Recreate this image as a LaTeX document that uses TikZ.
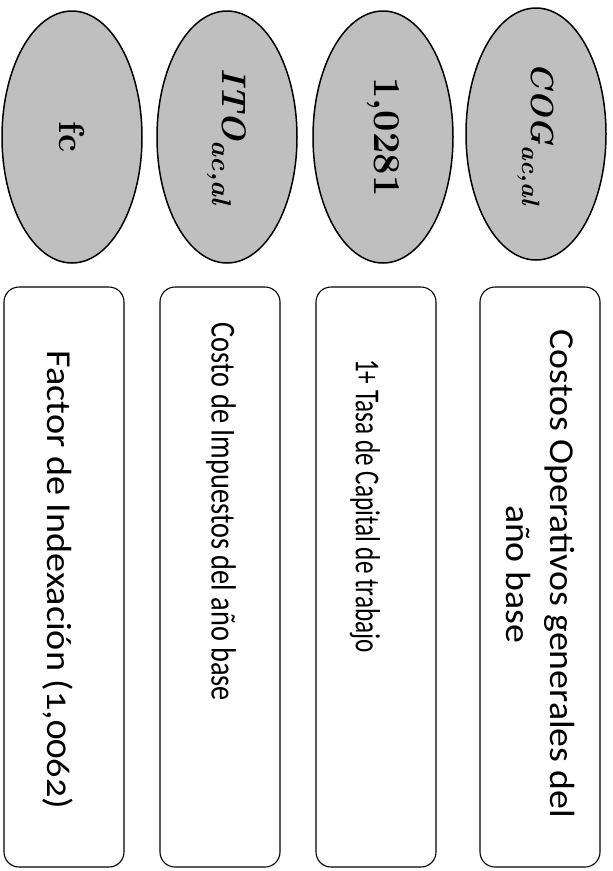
\documentclass[tikz,border=0pt]{standalone}
\usepackage{fontspec}
\setsansfont{Carlito}
\usetikzlibrary{shapes.geometric}
\DeclareMathSizes{34}{34}{27}{22}
\DeclareMathSizes{32}{32}{25}{20}
\begin{document}
\begin{tikzpicture}[x=1pt, y=1pt, line join=round,
    oval/.style={draw, ellipse, line width=1.5pt, fill=black!25, minimum width=252pt, minimum height=140pt, inner sep=0pt, rotate=-90, font=\bfseries\fontsize{34}{40}\selectfont},
    panel/.style={draw, rounded corners=15pt, line width=1.1pt, minimum width=580pt, minimum height=120pt, rotate=-90},
    paneltext/.style={rotate=-90, align=center, inner sep=0pt, font=\sffamily\fontsize{35}{44}\selectfont}]
    \useasboundingbox (0,0) rectangle (613,-871);
    % ovals
    \node[oval] (fc) at (72, -137) {\fontsize{36}{40}\selectfont fc};
    \node[oval] (ito) at (227, -137) {\itshape ITO\textsubscript{ac,al}};
    \node[oval] (tasa) at (383, -137) {\fontsize{38}{44}\selectfont 1,0281};
    \node[oval] (cog) at (536, -134) {\fontsize{32}{40}\selectfont\itshape COG\textsubscript{ac,al}};
    % panels
    \node[panel] (p1) at (64, -577) {};
    \node[panel] (p2) at (220, -577) {};
    \node[panel] (p3) at (376, -577) {};
    \node[panel] (p4) at (540, -577) {};
    \node[paneltext, xscale=1.09] (t1) at (58, -580) {Factor de Indexación ({\addfontfeatures{Numbers=OldStyle}1,0062})};
    \node[paneltext, xscale=0.81] (t2) at (221, -512) {Costo de Impuestos del año base};
    \node[paneltext, xscale=0.72] (t3) at (365, -506) {1+ Tasa de Capital de trabajo};
    \node[paneltext, xscale=1.08] (t4) at (541, -574) {Costos Operativos generales del\\año base};
\end{tikzpicture}
\end{document}
